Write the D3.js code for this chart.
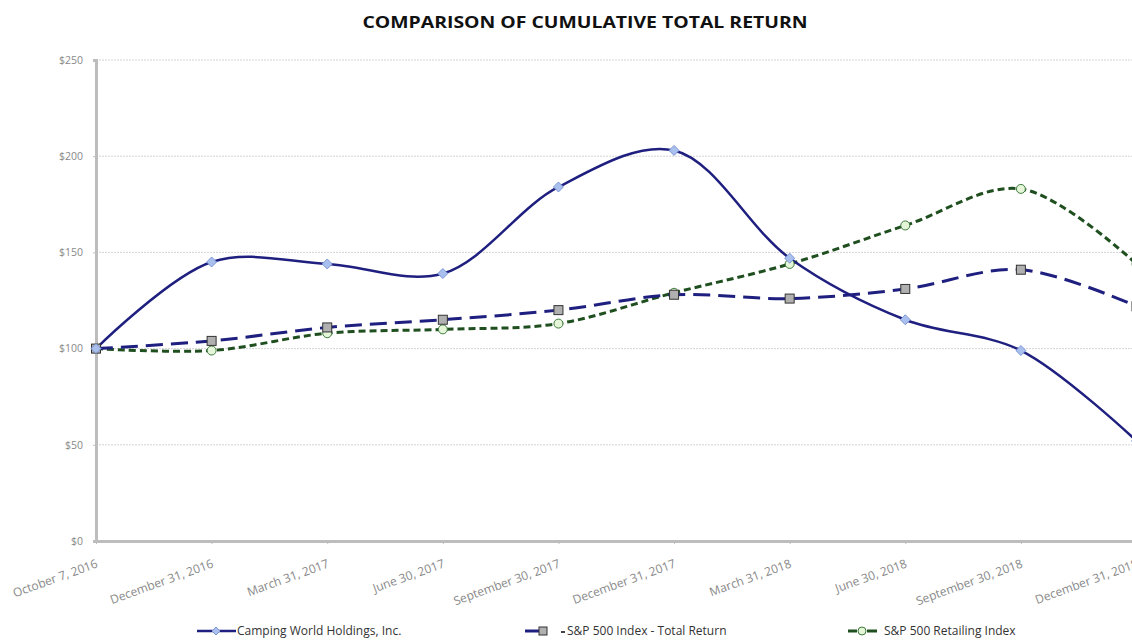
<!DOCTYPE html>
<html><head><meta charset="utf-8">
<script src="https://cdn.jsdelivr.net/npm/d3@7/dist/d3.min.js"></script>
<style>body{margin:0;background:#fff;}svg{display:block;}</style>
</head><body>
<svg id="c" width="1132" height="643"></svg>
<script>
const categories = ["October 7, 2016","December 31, 2016","March 31, 2017","June 30, 2017","September 30, 2017","December 31, 2017","March 31, 2018","June 30, 2018","September 30, 2018","December 31, 2018"];
const campingWorld = [100,145,144,139,184,203,147,115,99,52];
const sp500 = [100,104,111,115,120,128,126,131,141,122];
const spRetail = [100,99,108,110,113,129,144,164,183,144];
const yTicks = [0,50,100,150,200,250];

const svg = d3.select("#c");
const x = d3.scalePoint().domain(categories).range([96, 1136.5]);
const y = d3.scaleLinear().domain([0,250]).range([541,60]);
const font = "'Open Sans', sans-serif";

svg.append("text").attr("x",585).attr("y",28).attr("text-anchor","middle")
  .attr("font-family",font).attr("font-weight",700).attr("font-size",16).attr("fill","#111")
  .attr("textLength",445).attr("lengthAdjust","spacingAndGlyphs")
  .text("COMPARISON OF CUMULATIVE TOTAL RETURN");

// gridlines
svg.append("g").selectAll("line").data(yTicks.filter(d=>d>0)).join("line")
  .attr("x1",96).attr("x2",1132).attr("y1",d=>y(d)).attr("y2",d=>y(d))
  .attr("stroke","#d4d4d4").attr("stroke-width",1).attr("stroke-dasharray","2,1");

// y axis
const ya = svg.append("g").attr("transform","translate(96,0)")
  .call(d3.axisLeft(y).tickValues(yTicks).tickSize(3).tickFormat(d=>"$"+d));
ya.select(".domain").attr("stroke","#bdbdbd").attr("stroke-width",3);
ya.selectAll(".tick line").attr("stroke","#bdbdbd");
ya.selectAll("text").attr("font-family",font).attr("font-size",10.5).attr("fill","#888").attr("x",-13);

// x axis
const xa = svg.append("g").attr("transform","translate(0,541)")
  .call(d3.axisBottom(x).tickSize(3).tickSizeOuter(0));
xa.select(".domain").attr("stroke","#bdbdbd").attr("stroke-width",3);
xa.selectAll(".tick line").attr("stroke","#bdbdbd");
xa.selectAll("text").attr("font-family",font).attr("font-size",12).attr("fill","#888")
  .attr("text-anchor","end").attr("dy",0).attr("y",0)
  .attr("transform","translate(2,26) rotate(-20)");

const navy = "#1f1f80", green = "#1f4f1f";
const curve = d3.curveCatmullRom.alpha(0.5);
function series(vals, color, dash, width){
  const line = d3.line().x((d,i)=>x(categories[i])).y(d=>y(d)).curve(curve);
  svg.append("path").attr("d",line(vals)).attr("fill","none").attr("stroke",color)
    .attr("stroke-width",width).attr("stroke-dasharray",dash);
}
series(spRetail, green, "7,4", 3);
series(sp500, navy, "17,8", 3);
series(campingWorld, navy, null, 2.5);

function markers(vals, kind){
  const g = svg.append("g");
  vals.forEach((v,i)=>{
    const cx = x(categories[i]), cy = y(v);
    if(kind==="diamond") g.append("path").attr("d",`M${cx},${cy-5}L${cx+5},${cy}L${cx},${cy+5}L${cx-5},${cy}Z`)
      .attr("fill","#a9c0ee").attr("stroke","#7d97d6").attr("stroke-width",1);
    if(kind==="square") g.append("rect").attr("x",cx-4.5).attr("y",cy-4.5).attr("width",9).attr("height",9)
      .attr("fill","#b0b0b0").attr("stroke","#333").attr("stroke-width",1);
    if(kind==="circle") g.append("circle").attr("cx",cx).attr("cy",cy).attr("r",4.5)
      .attr("fill","#e4f5d8").attr("stroke","#3d7a3d").attr("stroke-width",1);
  });
}
markers(spRetail,"circle");
markers(sp500,"square");
markers(campingWorld,"diamond");

// legend
const ly = 631;
const lg = svg.append("g");
lg.append("line").attr("x1",197).attr("x2",236).attr("y1",ly).attr("y2",ly).attr("stroke",navy).attr("stroke-width",2.5);
lg.append("path").attr("d",`M216,${ly-4}L220,${ly}L216,${ly+4}L212,${ly}Z`).attr("fill","#a9c0ee").attr("stroke","#7d97d6");
lg.append("text").attr("x",237).attr("y",ly+4).text("Camping World Holdings, Inc.");

lg.append("line").attr("x1",525).attr("x2",547).attr("y1",ly).attr("y2",ly).attr("stroke",navy).attr("stroke-width",3);
lg.append("rect").attr("x",539).attr("y",ly-4).attr("width",8).attr("height",8).attr("fill","#b0b0b0").attr("stroke","#333");
lg.append("line").attr("x1",561).attr("x2",565).attr("y1",ly+1).attr("y2",ly+1).attr("stroke","#444").attr("stroke-width",2);
lg.append("text").attr("x",567).attr("y",ly+4).text("S&P 500 Index - Total Return");

lg.append("line").attr("x1",848).attr("x2",857).attr("y1",ly).attr("y2",ly).attr("stroke",green).attr("stroke-width",3);
lg.append("line").attr("x1",867).attr("x2",877).attr("y1",ly).attr("y2",ly).attr("stroke",green).attr("stroke-width",3);
lg.append("circle").attr("cx",862).attr("cy",ly).attr("r",4).attr("fill","#e4f5d8").attr("stroke","#3d7a3d");
lg.append("text").attr("x",884).attr("y",ly+4).text("S&P 500 Retailing Index");
lg.selectAll("text").attr("font-family",font).attr("font-size",12).attr("fill","#333");
</script>
</body></html>
